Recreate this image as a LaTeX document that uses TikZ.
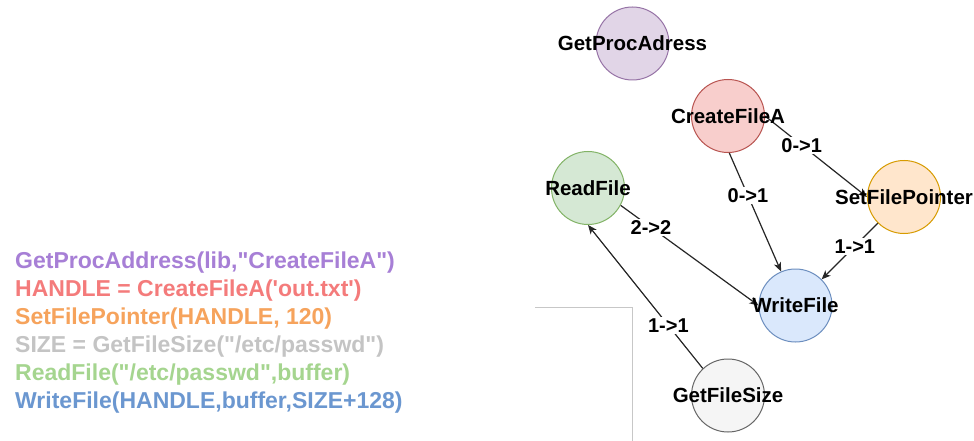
\documentclass[tikz,border=0pt]{standalone}
\usepackage{fontspec}
\setmainfont{Liberation Sans}[Ligatures=TeXOff]
\usetikzlibrary{arrows.meta}
\definecolor{gpfill}{HTML}{E1D5E7}\definecolor{gpline}{HTML}{9673A6}
\definecolor{cffill}{HTML}{F8CECC}\definecolor{cfline}{HTML}{B85450}
\definecolor{rffill}{HTML}{D5E8D4}\definecolor{rfline}{HTML}{82B366}
\definecolor{spfill}{HTML}{FFE6CC}\definecolor{spline}{HTML}{D79B00}
\definecolor{wffill}{HTML}{DAE8FC}\definecolor{wfline}{HTML}{6C8EBF}
\definecolor{gsfill}{HTML}{F5F5F5}\definecolor{gsline}{HTML}{666666}
\definecolor{cpurple}{HTML}{A77FD6}
\definecolor{cred}{HTML}{F47B7B}
\definecolor{corange}{HTML}{F6A35C}
\definecolor{cgray}{HTML}{C4C4C4}
\definecolor{cgreen}{HTML}{A5D58F}
\definecolor{cblue}{HTML}{6B97D0}
\definecolor{edgecol}{HTML}{262626}
\begin{document}
\begin{tikzpicture}[x=1pt,y=-1pt,
  circ/.style={circle, minimum size=73pt, inner sep=0pt, line width=1pt},
  ntext/.style={font=\fontsize{20.5}{24}\selectfont\bfseries, text=black, inner sep=0pt},
  elabel/.style={font=\fontsize{20}{24}\selectfont\bfseries, text=black, fill=white, inner sep=1.5pt},
  edge/.style={draw=edgecol, line width=1.2pt, -{Stealth[length=9pt,width=7.5pt,inset=2.5pt]}},
  code/.style={font=\fontsize{23}{28}\selectfont\bfseries, anchor=base west, inner sep=0pt}
]
\useasboundingbox (0,0) rectangle (974,441);
\fill[white] (0,0) rectangle (974,441);

% gray L-shaped line
\coordinate (la) at (535,307);
\coordinate (lb) at (632,307);
\coordinate (lc) at (632,441);
\draw[black!22, line width=1pt] (la) -- (lb) -- (lc);

% code lines
\node[code, text=cpurple] (l1) at (15,268) {GetProcAddress(lib,"CreateFileA")};
\node[code, text=cred]    (l2) at (15,296) {HANDLE = CreateFileA('out.txt')};
\node[code, text=corange] (l3) at (15,324) {SetFilePointer(HANDLE, 120)};
\node[code, text=cgray]   (l4) at (15,352) {SIZE = GetFileSize("/etc/passwd")};
\node[code, text=cgreen]  (l5) at (15,380) {ReadFile("/etc/passwd",buffer)};
\node[code, text=cblue]   (l6) at (15,408) {WriteFile(HANDLE,buffer,SIZE+128)};

% circles
\node[circ, draw=gpline, fill=gpfill] (gpa) at (632.5,43.5) {};
\node[circ, draw=cfline, fill=cffill] (cfa) at (728,116) {};
\node[circ, draw=rfline, fill=rffill] (rf)  at (588,188) {};
\node[circ, draw=spline, fill=spfill] (sfp) at (904,197) {};
\node[circ, draw=wfline, fill=wffill] (wf)  at (795.5,305.5) {};
\node[circ, draw=gsline, fill=gsfill] (gfs) at (728,395.5) {};

% edges
\draw[edge] (cfa.east) -- node[elabel, pos=0.36] {0->1} (sfp.west);
\draw[edge] (cfa.-88) -- node[elabel, pos=0.36] {0->1} (wf.113);
\draw[edge] (sfp.225) -- node[elabel, pos=0.41] {1->1} (wf.45);
\draw[edge] (rf.-28) -- node[elabel, pos=0.22] {2->2} (wf.west);
\draw[edge] (gfs.133) -- node[elabel, pos=0.30] {1->1} (rf.-90);

% node texts
\node[ntext] (gpat) at (gpa) {GetProcAdress};
\node[ntext] (cfat) at (cfa) {CreateFileA};
\node[ntext] (rft)  at (rf)  {ReadFile};
\node[ntext] (sfpt) at (sfp) {SetFilePointer};
\node[ntext] (wft)  at (wf)  {WriteFile};
\node[ntext] (gfst) at (gfs) {GetFileSize};
\end{tikzpicture}
\end{document}
